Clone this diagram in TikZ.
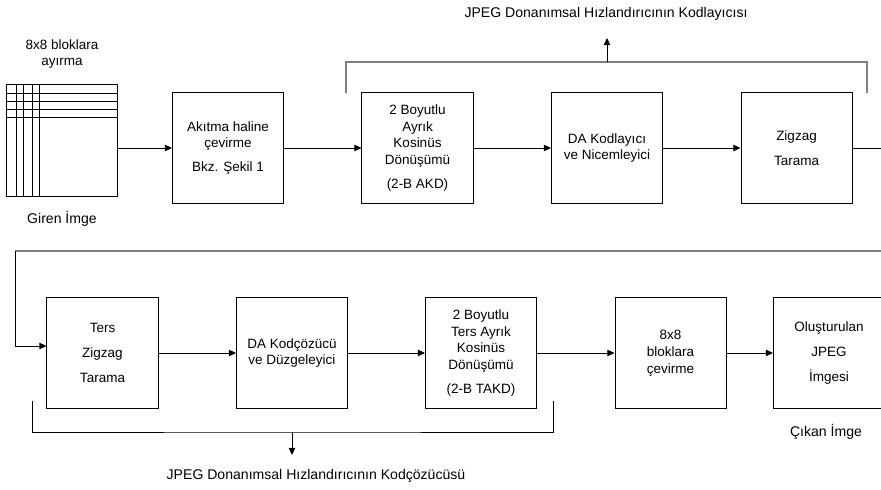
\documentclass[tikz,border=0pt]{standalone}
\usepackage{fontspec}
\setmainfont{Liberation Sans}
\usetikzlibrary{arrows.meta}
\begin{document}
\begin{tikzpicture}[x=0.025cm, y=-0.025cm,
    yazi/.style={font=\fontsize{9.6}{12}\selectfont, align=center, inner sep=0},
    baslik/.style={yazi, font=\fontsize{10}{12}\selectfont},
    blok/.style={yazi, draw=black, line width=0.7pt, minimum width=2.775cm, minimum height=2.75cm},
    ok/.style={-{Triangle[length=5pt,width=4.5pt]}, line width=0.7pt},
    gri/.style={draw=black!50, line width=1.1pt}]
      \useasboundingbox (0,0) rectangle (881,490);
      % giren imge
      \node [draw=black, line width=0.7pt, minimum width=2.75cm, minimum height=2.775cm] (giren) at (62,140.5) {};
      \foreach \gx in {16,23,32,39}
        \draw [line width=0.6pt] (\gx,85) -- (\gx,196);
      \foreach \gy in {93,101,109,117}
        \draw [line width=0.6pt] (7,\gy) -- (117,\gy);
      \node [yazi] (ayirma) at (62,54) {8x8 bloklara\\ayırma};
      \node [baslik] (girenT) at (62,219) {Giren İmge};
      %
      \node [blok] (akit) at (228,148) {Akıtma haline\\çevirme\\[5pt]Bkz. Şekil 1};
      \node [blok] (akd) at (417.5,148) {2 Boyutlu\\Ayrık\\Kosinüs\\Dönüşümü\\[5pt](2-B AKD)};
      \node [blok] (dak) at (607,148) {DA Kodlayıcı\\ve Nicemleyici};
      \node [blok] (zig) at (796.5,148) {Zigzag\\[6pt]Tarama};
      %
      \node [blok] (tzig) at (102.5,353) {Ters\\[6pt]Zigzag\\[6pt]Tarama};
      \node [blok] (dac) at (292,353) {DA Kodçözücü\\ve Düzgeleyici};
      \node [blok] (takd) at (481,353) {2 Boyutlu\\Ters Ayrık\\Kosinüs\\Dönüşümü\\[5pt](2-B TAKD)};
      \node [blok] (blk) at (670.5,353) {8x8\\bloklara\\çevirme};
      \node [blok] (olus) at (829,353) {Oluşturulan\\[6pt]JPEG\\[6pt]İmgesi};
      \node [baslik] (cikan) at (826,432) {Çıkan İmge};
      %
      \draw [ok] (giren.east |- akit) -- (akit);
      \draw [ok] (akit) -- (akd);
      \draw [ok] (akd) -- (dak);
      \draw [ok] (dak) -- (zig);
      \draw [ok] (tzig) -- (dac);
      \draw [ok] (dac) -- (takd);
      \draw [ok] (takd) -- (blk);
      \draw [ok] (blk) -- (olus);
      % geri donus
      \coordinate (donus) at (15,251);
      \draw [line width=0.7pt] (zig.east) -- (886,148) -- (886,251);
      \draw [gri] (886,251) -- (donus);
      \draw [ok] (donus) |- ([yshift=0.175cm]tzig.west);
      % kodlayici
      \coordinate (kodSol) at (346,93);
      \coordinate (kodSag) at (867,93);
      \coordinate (kodOrta) at (607,62);
      \draw [gri] (kodSol) |- (kodOrta) -| (kodSag);
      \node [baslik] (kodT) at (606,14) {JPEG Donanımsal Hızlandırıcının Kodlayıcısı};
      \draw [ok] (kodOrta) -- (kodOrta |- 0,38);
      % kodcozucu
      \coordinate (cozSol) at (32,401);
      \coordinate (cozSag) at (553,401);
      \coordinate (cozOrta) at (292,432);
      \draw [line width=0.7pt] (cozSol) |- (cozOrta) -| (cozSag);
      \node [baslik] (cozT) at (316,476) {JPEG Donanımsal Hızlandırıcının Kodçözücüsü};
      \draw [ok] (cozOrta) -- (cozOrta |- 0,455);
\end{tikzpicture}
\end{document}
